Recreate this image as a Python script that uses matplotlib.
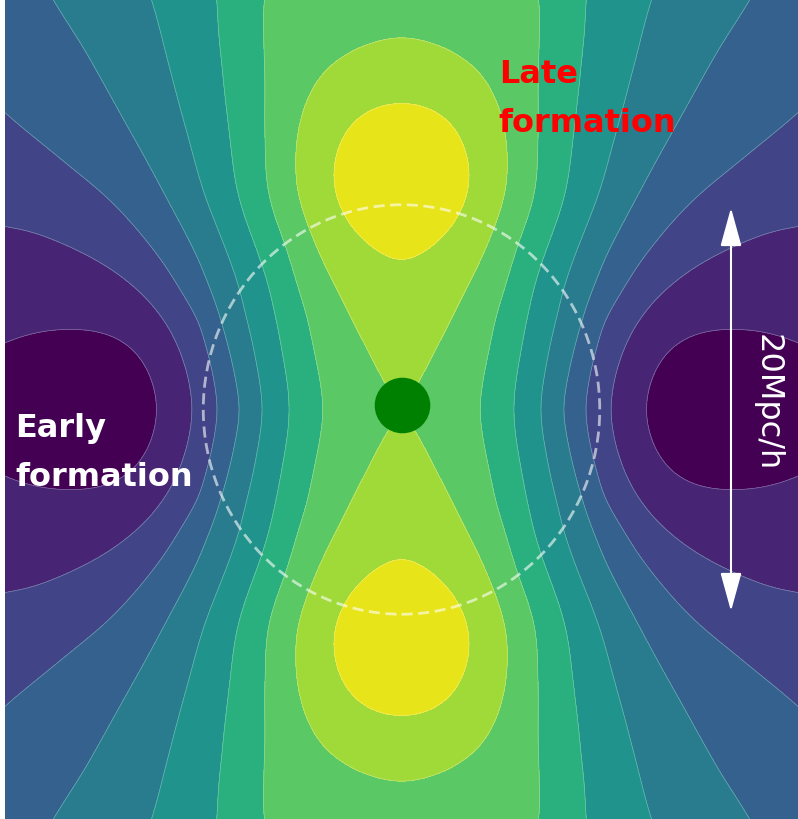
import numpy as np
import matplotlib
matplotlib.use("Agg")
import matplotlib.pyplot as plt
from matplotlib.patches import Circle

# ---- contour boundaries (upper-left quadrant, data units; 1 unit = 10 Mpc/h)
# value k = boundary between colour band k-1 and band k
lvl1_x = [-1.228, -1.253, -1.319, -1.420, -1.546, -1.682, -1.823, -1.924, -2.0]
lvl1_y = [0.0, 0.144, 0.266, 0.344, 0.383, 0.391, 0.379, 0.354, 0.325]
lvl2_x = [-2.0, -1.909, -1.773, -1.637, -1.470, -1.259, -1.143, -1.077, -1.052]
lvl2_y = [0.891, 0.882, 0.838, 0.779, 0.691, 0.520, 0.339, 0.168, 0.0]
lvl3_x = [-2.0, -1.823, -1.647, -1.471, -1.269, -1.117, -1.006, -0.956, -0.925]
lvl3_y = [1.448, 1.306, 1.165, 1.023, 0.803, 0.584, 0.417, 0.217, 0.0]
lvl4_x = [-1.758, -1.596, -1.455, -1.314, -1.178, -1.097, -1.021, -0.966, -0.921, -0.875, -0.840, -0.815]
lvl4_y = [2.0, 1.756, 1.512, 1.267, 1.023, 0.877, 0.730, 0.584, 0.437, 0.291, 0.144, 0.0]
lvl5_x = [-1.260, -1.193, -1.127, -1.057, -1.001, -0.905, -0.815, -0.754, -0.719, -0.704]
lvl5_y = [2.0, 1.756, 1.512, 1.267, 1.072, 0.828, 0.584, 0.339, 0.144, 0.0]
lvl6_x = [-0.925, -0.905, -0.875, -0.830, -0.749, -0.663, -0.613, -0.578, -0.567]
lvl6_y = [2.0, 1.707, 1.414, 1.072, 0.828, 0.584, 0.339, 0.144, 0.0]
lvl7_x = [-0.704, -0.699, -0.689, -0.683, -0.673, -0.593, -0.522, -0.487, -0.446, -0.411, -0.396]
lvl7_y = [2.0, 1.756, 1.512, 1.267, 1.072, 0.828, 0.584, 0.487, 0.291, 0.120, 0.0]
lvl8_x = [0.0, -0.159, -0.310, -0.421, -0.497, -0.532, -0.537, -0.527, -0.446, -0.325, -0.200, -0.103, 0.0]
lvl8_y = [1.814, 1.780, 1.707, 1.609, 1.463, 1.316, 1.219, 1.072, 0.828, 0.584, 0.339, 0.144, 0.0]
lvl9_x = [0.0, -0.149, -0.250, -0.320, -0.351, -0.340, -0.275, -0.199, -0.124, 0.0]
lvl9_y = [1.502, 1.473, 1.404, 1.292, 1.145, 1.048, 0.911, 0.828, 0.774, 0.720]
# extrema / anchor values
extra_x = [0.0, -1.68, -2.0]
extra_y = [1.11, 0.0, 2.0]
extra_v = [9.45, 0.4, 3.6]

band_levels = [-10, 1, 2, 3, 4, 5, 6, 7, 8, 9, 20]
band_colors = ['#440154', '#482475', '#414487', '#34618d', '#287c8e',
               '#20938c', '#2ab07f', '#5ac864', '#a0da39', '#e7e419']

late_label = "Late\nformation"
early_label = "Early\nformation"
scale_label = "20Mpc/h"

# ---- build a smooth field through the read boundary points (smoothing thin-plate spline)
sets = [(lvl1_x, lvl1_y, 1), (lvl2_x, lvl2_y, 2), (lvl3_x, lvl3_y, 3), (lvl4_x, lvl4_y, 4),
        (lvl5_x, lvl5_y, 5), (lvl6_x, lvl6_y, 6), (lvl7_x, lvl7_y, 7), (lvl8_x, lvl8_y, 8),
        (lvl9_x, lvl9_y, 9)]
pts = {}
def add(x, y, v):
    for sx in (1, -1):
        for sy in (1, -1):
            pts[(round(sx * x, 4), round(sy * y, 4))] = v
for xs, ys, v in sets:
    for x, y in zip(xs, ys):
        add(x, y, v)
for x, y, v in zip(extra_x, extra_y, extra_v):
    add(x, y, v)
P = np.array(list(pts.keys()))
V = np.array(list(pts.values()), dtype=float)
n = len(V)

def kern(r):
    with np.errstate(divide='ignore', invalid='ignore'):
        k = r * r * np.log(r)
    return np.where(r > 0, k, 0.0)

D = np.hypot(P[:, 0][:, None] - P[:, 0][None, :], P[:, 1][:, None] - P[:, 1][None, :])
K = kern(D) + 0.005 * np.eye(n)
Pm = np.column_stack([np.ones(n), P[:, 0], P[:, 1]])
A = np.block([[K, Pm], [Pm.T, np.zeros((3, 3))]])
sol = np.linalg.solve(A, np.concatenate([V, np.zeros(3)]))
w, a = sol[:n], sol[n:]

# evaluate on a grid a little larger than the view, so smoothing has no edge effects
gx = np.linspace(-2.3, 2.3, 461)
gy = np.linspace(-2.3, 2.3, 461)
GX, GY = np.meshgrid(gx, gy)
Z = np.empty_like(GX)
for i in range(0, len(gy), 40):
    xx = GX[i:i + 40].ravel()
    yy = GY[i:i + 40].ravel()
    r = np.hypot(xx[:, None] - P[:, 0][None, :], yy[:, None] - P[:, 1][None, :])
    Z[i:i + 40] = (kern(r) @ w + a[0] + a[1] * xx + a[2] * yy).reshape(-1, len(gx))

sig = 5.0
t = np.arange(-15, 16)
g = np.exp(-0.5 * (t / sig) ** 2)
g /= g.sum()
Zp = np.pad(Z, 15, mode='edge')
Zp = np.apply_along_axis(lambda m: np.convolve(m, g, mode='same'), 0, Zp)
Zp = np.apply_along_axis(lambda m: np.convolve(m, g, mode='same'), 1, Zp)
Z = Zp[15:-15, 15:-15]

# ---- plot
fig = plt.figure(figsize=(7.98, 8.19), dpi=100)
ax = fig.add_axes([5 / 798, 0, 793 / 798, 1])
ax.contourf(GX, GY, Z, levels=band_levels, colors=band_colors)
ax.contour(GX, GY, Z, levels=band_levels[1:-1], colors='white', linewidths=0.5, alpha=0.35)
ax.add_patch(Circle((0, 0), 1.0, fill=False, edgecolor='white', alpha=0.6, lw=2,
                    linestyle=(0, (4, 2))))
ax.plot([0], [0.02], 'o', color='green', markersize=39, zorder=5)
ax.annotate('', xy=(1.662, 0.985), xytext=(1.662, -0.985),
            arrowprops=dict(arrowstyle='<|-|>,head_length=1.2,head_width=0.33',
                            color='white', lw=1.5, mutation_scale=20, shrinkA=0, shrinkB=0))
ax.text(1.845, 0.035, scale_label, color='white', fontsize=23, rotation=-90,
        ha='center', va='center')
ax.text(0.49, 1.355, late_label, color='red', fontsize=23, fontweight='bold',
        ha='left', va='baseline', linespacing=1.76)
ax.text(-1.948, -0.374, early_label, color='white', fontsize=23, fontweight='bold',
        ha='left', va='baseline', linespacing=1.76)
ax.set_xlim(-2, 2)
ax.set_ylim(-2, 2)
ax.axis('off')
fig.savefig('out.png', dpi=100)
